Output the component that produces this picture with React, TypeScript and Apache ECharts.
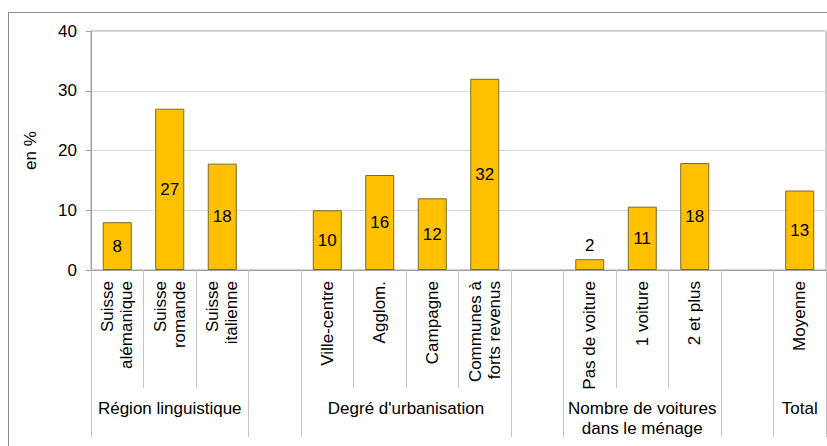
import { useEffect, useRef } from "react";
import * as echarts from "echarts";

// Share (in %) per group of respondents
const groupNames = [
  "Région linguistique",
  "Degré d'urbanisation",
  "Nombre de voitures\ndans le ménage",
  "Total",
];
const regionCategories = ["Suisse\nalémanique", "Suisse\nromande", "Suisse\nitalienne"];
const regionValues = [8, 27, 17.8];
const urbanCategories = ["Ville-centre", "Agglom.", "Campagne", "Communes à\nforts revenus"];
const urbanValues = [10, 15.9, 12, 32];
const carCategories = ["Pas de voiture", "1 voiture", "2 et plus"];
const carValues = [1.8, 10.6, 17.9];
const totalCategories = ["Moyenne"];
const totalValues = [13.3];

const yMin = 0;
const yMax = 40;
const yStep = 10;

const FONT = "'Liberation Sans', Arial, sans-serif";
const FS = 17;

// Build the flat category axis with an empty slot between groups
function buildAxis() {
  const groups = [
    { cats: regionCategories, vals: regionValues },
    { cats: urbanCategories, vals: urbanValues },
    { cats: carCategories, vals: carValues },
    { cats: totalCategories, vals: totalValues },
  ];
  const categories: string[] = [];
  const values: (number | null)[] = [];
  const ranges: { first: number; last: number }[] = [];
  groups.forEach((g, gi) => {
    if (gi > 0) {
      categories.push("");
      values.push(null);
    }
    const first = categories.length;
    g.cats.forEach((c, i) => {
      categories.push(c);
      values.push(g.vals[i]);
    });
    ranges.push({ first, last: categories.length - 1 });
  });
  return { categories, values, ranges };
}

export default function App() {
  const ref = useRef<HTMLDivElement>(null);

  useEffect(() => {
    if (!ref.current) return;
    const chart = echarts.init(ref.current, undefined, { renderer: "svg" });
    const { categories, values, ranges } = buildAxis();

    const boundaries: number[] = [];
    ranges.forEach((r) => {
      boundaries.push(r.first - 0.5, r.last + 0.5);
    });
    const centers = ranges.map((r) => (r.first + r.last) / 2);

    const barData = values.map((v) =>
      v == null
        ? null
        : v < 3
        ? { value: v, label: { position: "top", distance: 5 } }
        : { value: v }
    );

    chart.setOption({
      animation: false,
      backgroundColor: "#ffffff",
      textStyle: { fontFamily: FONT },
      grid: {
        left: 91,
        top: 31,
        right: 1,
        bottom: 176,
        show: true,
        borderColor: "#a0a0a0",
        borderWidth: 1,
      },
      xAxis: [
        {
          type: "category",
          data: categories,
          boundaryGap: true,
          axisLine: { show: true, onZero: false, lineStyle: { color: "#a0a0a0", width: 1 } },
          axisTick: {
            show: true,
            interval: 0,
            length: 118,
            lineStyle: { color: "#c4c4c4", width: 1 },
          },
          axisLabel: {
            interval: 0,
            rotate: 90,
            margin: 11,
            fontSize: FS,
            lineHeight: 19,
            color: "#000000",
            fontFamily: FONT,
          },
          splitLine: { show: false },
        },
        {
          type: "value",
          position: "bottom",
          min: -0.5,
          max: categories.length - 0.5,
          axisLine: { show: false, onZero: false },
          splitLine: { show: false },
          axisTick: {
            show: true,
            customValues: boundaries,
            length: 167,
            lineStyle: { color: "#c4c4c4", width: 1 },
          },
          axisLabel: {
            customValues: centers,
            margin: 128,
            fontSize: FS,
            lineHeight: 20,
            color: "#000000",
            fontFamily: FONT,
            formatter: (v: number) => {
              const idx = centers.findIndex((c) => Math.abs(c - v) < 1e-6);
              return idx >= 0 ? groupNames[idx] : "";
            },
          },
        },
      ],
      yAxis: {
        type: "value",
        min: yMin,
        max: yMax,
        interval: yStep,
        name: "en %",
        nameLocation: "middle",
        nameRotate: 90,
        nameGap: 52,
        nameTextStyle: { fontSize: FS, color: "#000000", fontFamily: FONT },
        axisLine: { show: true, onZero: false, lineStyle: { color: "#a0a0a0", width: 1 } },
        axisTick: { show: true, length: 5, lineStyle: { color: "#a0a0a0" } },
        axisLabel: { margin: 14, fontSize: FS, color: "#000000", fontFamily: FONT },
        splitLine: { show: true, lineStyle: { color: "#d9d9d9", width: 1 } },
      },
      series: [
        {
          type: "bar",
          xAxisIndex: 0,
          data: barData,
          barWidth: 29,
          itemStyle: { color: "#ffc000", borderColor: "#7a6a2a", borderWidth: 1 },
          label: {
            show: true,
            position: "inside",
            fontSize: FS,
            color: "#000000",
            fontFamily: FONT,
            formatter: (p: any) => String(Math.round(p.value)),
          },
        },
      ],
      graphic: [
        {
          type: "rect",
          silent: true,
          shape: { x: 8.5, y: 12.5, width: 840, height: 460 },
          style: { fill: "none", stroke: "#8c8c8c", lineWidth: 1 },
        },
      ],
    });

    return () => chart.dispose();
  }, []);

  return (
    <div
      ref={ref}
      style={{ position: "absolute", left: 0, top: 0, width: 827, height: 446 }}
    />
  );
}
